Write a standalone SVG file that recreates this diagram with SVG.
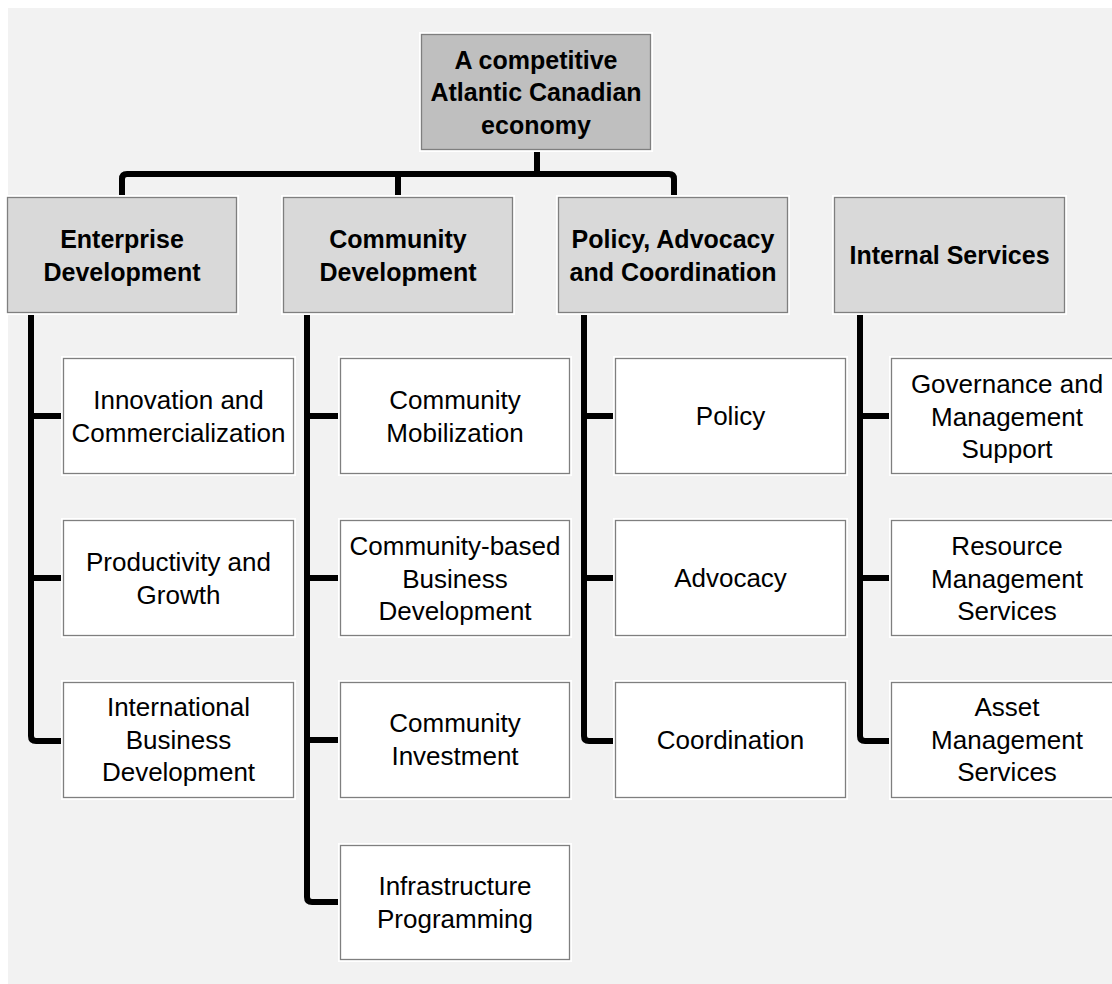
<svg xmlns="http://www.w3.org/2000/svg" width="1112" height="984" viewBox="0 0 1112 984">
<style>
.bg{fill:#f2f2f2}
.halo{fill:none;stroke:#ffffff;stroke-width:4}
.box{stroke:#7f7f7f;stroke-width:1.3}
.root{fill:#bfbfbf}
.l2{fill:#d9d9d9}
.leaf{fill:#ffffff}
.t{font-family:"Liberation Sans",Arial,sans-serif;fill:#000;text-anchor:middle}
.b{font-weight:bold;font-size:25px}
.r{font-size:26px}
.conn{fill:none;stroke:#000;stroke-width:6;stroke-linejoin:round}
</style>
<rect class="bg" x="8" y="8" width="1104" height="976"/>
<g id="connectors">
<path class="conn" d="M537,150 V174 M122,197 V179 Q122,174 127,174 H669 Q674,174 674,179 V197 M398,174 V197"/>
<path class="conn" d="M31,313 V736 Q31,741 36,741 H63 M31,416 H63 M31,578 H63"/>
<path class="conn" d="M307,313 V897 Q307,902 312,902 H340 M307,416 H340 M307,578 H340 M307,740 H340"/>
<path class="conn" d="M584,313 V736 Q584,741 589,741 H615 M584,416 H615 M584,578 H615"/>
<path class="conn" d="M860,313 V736 Q860,741 865,741 H891 M860,416 H891 M860,578 H891"/>
</g>
<g id="root">
<rect class="halo" x="421" y="34" width="230" height="116"/>
<rect class="box root" x="421.5" y="34.5" width="229" height="115"/>
<text class="t b" x="536" y="68.5">A competitive</text>
<text class="t b" x="536" y="101">Atlantic Canadian</text>
<text class="t b" x="536" y="133.5">economy</text>
</g>
<g id="enterprise">
<rect class="halo" x="7" y="197" width="230" height="116"/>
<rect class="box l2" x="7.5" y="197.5" width="229" height="115"/>
<text class="t b" x="122" y="247.5">Enterprise</text>
<text class="t b" x="122" y="280.5">Development</text>
</g>
<g id="community">
<rect class="halo" x="283" y="197" width="230" height="116"/>
<rect class="box l2" x="283.5" y="197.5" width="229" height="115"/>
<text class="t b" x="398" y="247.5">Community</text>
<text class="t b" x="398" y="280.5">Development</text>
</g>
<g id="policy">
<rect class="halo" x="558" y="197" width="230" height="116"/>
<rect class="box l2" x="558.5" y="197.5" width="229" height="115"/>
<text class="t b" x="673" y="247.5">Policy, Advocacy</text>
<text class="t b" x="673" y="280.5">and Coordination</text>
</g>
<g id="internal">
<rect class="halo" x="834" y="197" width="231" height="116"/>
<rect class="box l2" x="834.5" y="197.5" width="230" height="115"/>
<text class="t b" x="949.5" y="264">Internal Services</text>
</g>
<g id="innovation">
<rect class="halo" x="63" y="358" width="231" height="116"/>
<rect class="box leaf" x="63.5" y="358.5" width="230" height="115"/>
<text class="t r" x="178.5" y="409">Innovation and</text>
<text class="t r" x="178.5" y="441.5">Commercialization</text>
</g>
<g id="productivity">
<rect class="halo" x="63" y="520" width="231" height="116"/>
<rect class="box leaf" x="63.5" y="520.5" width="230" height="115"/>
<text class="t r" x="178.5" y="571">Productivity and</text>
<text class="t r" x="178.5" y="603.5">Growth</text>
</g>
<g id="international">
<rect class="halo" x="63" y="682" width="231" height="116"/>
<rect class="box leaf" x="63.5" y="682.5" width="230" height="115"/>
<text class="t r" x="178.5" y="716">International</text>
<text class="t r" x="178.5" y="748.5">Business</text>
<text class="t r" x="178.5" y="781">Development</text>
</g>
<g id="mobilization">
<rect class="halo" x="340" y="358" width="230" height="116"/>
<rect class="box leaf" x="340.5" y="358.5" width="229" height="115"/>
<text class="t r" x="455" y="409">Community</text>
<text class="t r" x="455" y="441.5">Mobilization</text>
</g>
<g id="cbbd">
<rect class="halo" x="340" y="520" width="230" height="116"/>
<rect class="box leaf" x="340.5" y="520.5" width="229" height="115"/>
<text class="t r" x="455" y="555">Community-based</text>
<text class="t r" x="455" y="587.5">Business</text>
<text class="t r" x="455" y="620">Development</text>
</g>
<g id="investment">
<rect class="halo" x="340" y="682" width="230" height="116"/>
<rect class="box leaf" x="340.5" y="682.5" width="229" height="115"/>
<text class="t r" x="455" y="732">Community</text>
<text class="t r" x="455" y="764.5">Investment</text>
</g>
<g id="infrastructure">
<rect class="halo" x="340" y="845" width="230" height="115"/>
<rect class="box leaf" x="340.5" y="845.5" width="229" height="114"/>
<text class="t r" x="455" y="895">Infrastructure</text>
<text class="t r" x="455" y="927.5">Programming</text>
</g>
<g id="policy-leaf">
<rect class="halo" x="615" y="358" width="231" height="116"/>
<rect class="box leaf" x="615.5" y="358.5" width="230" height="115"/>
<text class="t r" x="730.5" y="425">Policy</text>
</g>
<g id="advocacy">
<rect class="halo" x="615" y="520" width="231" height="116"/>
<rect class="box leaf" x="615.5" y="520.5" width="230" height="115"/>
<text class="t r" x="730.5" y="587">Advocacy</text>
</g>
<g id="coordination">
<rect class="halo" x="615" y="682" width="231" height="116"/>
<rect class="box leaf" x="615.5" y="682.5" width="230" height="115"/>
<text class="t r" x="730.5" y="749">Coordination</text>
</g>
<g id="governance">
<rect class="halo" x="891" y="358" width="232" height="116"/>
<rect class="box leaf" x="891.5" y="358.5" width="231" height="115"/>
<text class="t r" x="1007" y="393">Governance and</text>
<text class="t r" x="1007" y="425.5">Management</text>
<text class="t r" x="1007" y="458">Support</text>
</g>
<g id="resource">
<rect class="halo" x="891" y="520" width="232" height="116"/>
<rect class="box leaf" x="891.5" y="520.5" width="231" height="115"/>
<text class="t r" x="1007" y="555">Resource</text>
<text class="t r" x="1007" y="587.5">Management</text>
<text class="t r" x="1007" y="620">Services</text>
</g>
<g id="asset">
<rect class="halo" x="891" y="682" width="232" height="116"/>
<rect class="box leaf" x="891.5" y="682.5" width="231" height="115"/>
<text class="t r" x="1007" y="716">Asset</text>
<text class="t r" x="1007" y="748.5">Management</text>
<text class="t r" x="1007" y="781">Services</text>
</g>
</svg>
